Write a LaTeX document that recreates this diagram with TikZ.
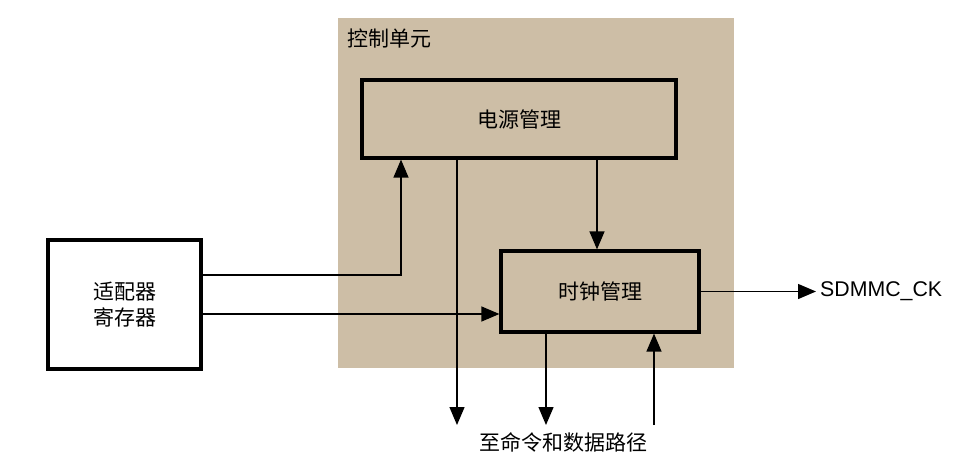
\documentclass[tikz,border=0pt]{standalone}
\usepackage{fontspec}
\setmainfont{Liberation Sans}
\newfontfamily\cjk{Noto Sans CJK SC}
\usepackage{tikz}
\usetikzlibrary{arrows.meta,positioning}
\definecolor{unittan}{RGB}{205,190,166}

\begin{document}
\begin{tikzpicture}[x=1pt,y=-1pt,>=Latex,
unit area/.style={fill=unittan,draw=none,minimum width=396pt,minimum height=350pt,inner sep=0pt},
block/.style={draw,line width=3.2pt,inner sep=0pt,align=center,font=\cjk\fontsize{21}{26}\selectfont},
flow/.style={-{Triangle[length=18pt,width=15pt]},line width=1.3pt},
plain label/.style={inner sep=0pt,font=\cjk\fontsize{21}{26}\selectfont}]
\useasboundingbox (0,0) rectangle (964,473);
\node[unit area] (ctrl) at (536,193) {};
\node[plain label,anchor=west] (ctrltitle) at (347,39) {控制单元};
\node[block,fill=unittan,minimum width=314pt,minimum height=78pt] (pwr) at (519,119) {电源管理};
\node[block,fill=unittan,minimum width=198pt,minimum height=81pt] (clk) at (600,291.5) {时钟管理};
\node[block,fill=white,minimum width=153pt,minimum height=129pt] (reg) at (124.5,304.5) {适配器\\寄存器};
\node[inner sep=0pt,anchor=west,font=\fontsize{21.3}{24}\selectfont] (ck) at (820,291.5) {SDMMC\_CK};
\node[plain label] (path) at (563,442) {至命令和数据路径};
\coordinate (cmd1) at (457,425);
\coordinate (cmd2) at (546,425);
\coordinate (cmd3) at (654,425);
\draw[flow] ([yshift=29.5pt]reg.east) -| ([xshift=-118pt]pwr.south);
\draw[flow] ([yshift=-9.5pt]reg.east) -- ([yshift=-9.5pt]reg.east -| clk.west);
\draw[flow] (pwr.south -| cmd1) -- (cmd1);
\draw[flow] ([xshift=-3pt]clk.north |- pwr.south) -- ([xshift=-3pt]clk.north);
\draw[flow] (clk.south -| cmd2) -- (cmd2);
\draw[flow] (cmd3) -- (clk.south -| cmd3);
\draw[flow] (clk.east) -- ([xshift=-4pt]ck.west);
\end{tikzpicture}
\end{document}
